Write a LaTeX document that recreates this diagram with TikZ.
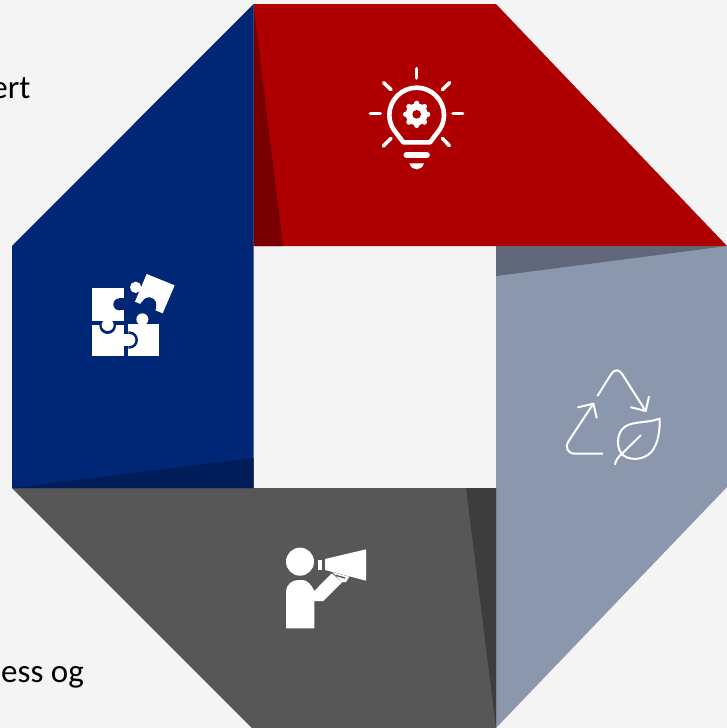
\documentclass[tikz,border=0pt]{standalone}
\usepackage{fontspec}
\setmainfont{Carlito}
\definecolor{bgc}{HTML}{F4F4F4}
\definecolor{redm}{HTML}{AE0000}
\definecolor{redd}{HTML}{780000}
\definecolor{slatem}{HTML}{8B97AD}
\definecolor{slated}{HTML}{5F6779}
\definecolor{graym}{HTML}{575757}
\definecolor{grayd}{HTML}{3D3D3D}
\definecolor{bluem}{HTML}{002776}
\definecolor{blued}{HTML}{001D5A}
\tikzset{
  bodytext/.style={font=\fontsize{33}{36}\selectfont,text=black,inner sep=0pt},
  ray/.style={draw=white,line width=3.6pt,line cap=round},
  thinline/.style={draw=white,line width=2pt,line cap=round,line join=round},
  zoomed/.style={scale=1/3}
}
\begin{document}
\begin{tikzpicture}[x=1pt,y=-1pt]
\useasboundingbox (0,0) rectangle (727,728);
\fill[bgc] (0,0) rectangle (727,728);
\node[bodytext,anchor=base east] (tA) at (30.5,98) {ert};
\node[bodytext,anchor=base east] (tB) at (84,682) {ess og};
% panels
\fill[redm] (253.5,4) -- (496,4) -- (727,246) -- (253.5,246) -- cycle;
\fill[redd] (253.5,4) -- (283,246) -- (253.5,246) -- cycle;
\fill[slatem] (496,246) -- (727,246) -- (727,487) -- (496,728) -- cycle;
\fill[slated] (496,246) -- (727,246) -- (496,276) -- cycle;
\fill[graym] (12,488) -- (496,488) -- (496,728) -- (252,728) -- cycle;
\fill[grayd] (466,488) -- (496,488) -- (496,728) -- cycle;
\fill[bluem] (253.5,4) -- (253.5,488) -- (12,488) -- (12,246) -- cycle;
\fill[blued] (12,488) -- (253.5,458) -- (253.5,488) -- cycle;
% bulb
\begin{scope}[shift={(350,50)},zoomed]
\draw[ray] (200,56) -- (200,84);
\draw[ray] (61,191) -- (91,191);
\draw[ray] (309,191) -- (338,191);
\draw[ray] (101,98) -- (123,119);
\draw[ray] (299,98) -- (277,119);
\draw[ray] (100,288) -- (123,265);
\draw[ray] (298,287) -- (277,265);
\draw[draw=white,line width=4.6pt,line join=round]
  (160,277) -- (132,240) .. controls (122,225) and (118,210) .. (118,195)
  .. controls (118,150) and (155,113) .. (200,113)
  .. controls (245,113) and (282,150) .. (282,195)
  .. controls (282,210) and (278,225) .. (268,240) -- (240,277) -- cycle;
\foreach \a in {0,45,...,315}
  \fill[white] (200,193) ++(\a:33) circle[radius=8];
\fill[white] (200,193) circle[radius=33];
\fill[redm] (200,193) circle[radius=13];
\draw[draw=white,line width=6.4pt,line cap=round] (170,315) -- (230,315);
\fill[white] (178,340) -- (222,340) .. controls (218,352) and (210,358) .. (200,358) .. controls (190,358) and (182,352) .. (178,340) -- cycle;
\end{scope}
% puzzle
\begin{scope}[shift={(70,260)},zoomed]
\fill[white] (65,83) rectangle (163,183);
\fill[bluem] (148,133) circle[radius=18];
\fill[bluem] (148,115) rectangle (163,151);
\fill[white] (65,195) rectangle (163,288);
\fill[white] (175,193) rectangle (268,288);
\fill[white] (217,178) circle[radius=18];
\begin{scope}
\clip (60,183) rectangle (170,260);
\fill[bluem] (113,197) circle[radius=25];
\end{scope}
\fill[white] (113,195) circle[radius=18];
\begin{scope}
\clip (175,200) rectangle (220,280);
\fill[bluem] (178,240) circle[radius=26];
\end{scope}
\fill[white] (178,240) circle[radius=18];
\fill[white] (160,222) rectangle (178,258);
\fill[white] (230,42) -- (314,76) -- (278,160) -- (195,125) -- cycle;
\fill[white] (197,82) circle[radius=17];
\fill[bluem] (237,134) circle[radius=22];
\fill[bluem] (216,125) -- (258,142) -- (255,160) -- (205,140) -- cycle;
\end{scope}
% recycle and leaf
\begin{scope}[shift={(550,355)},zoomed]
\draw[thinline] (143,122) -- (183,58) .. controls (192,42) and (208,42) .. (217,58) -- (287,168);
\draw[thinline] (243,157) -- (287,168) -- (297,125);
\draw[thinline] (157,296) -- (75,296) .. controls (52,296) and (44,276) .. (56,258) -- (130,146);
\draw[thinline] (84,157) -- (130,146) -- (140,188);
\draw[thinline] (329,191) .. controls (290,205) and (250,198) .. (225,215)
  .. controls (200,232) and (198,275) .. (214,295)
  .. controls (232,318) and (280,318) .. (305,290)
  .. controls (325,265) and (330,225) .. (329,191) -- cycle;
\draw[thinline] (195,328) .. controls (198,315) and (205,305) .. (215,297) -- (272,241);
\end{scope}
% megaphone speaker
\begin{scope}[shift={(270,535)},zoomed]
\fill[white] (90,80) circle[radius=42];
\fill[white] (48,280) -- (48,170) .. controls (48,150) and (65,135) .. (85,135)
  -- (98,135) .. controls (112,135) and (125,150) .. (133,168)
  -- (185,115) -- (216,142) -- (160,198) -- (133,198) -- (133,280) -- cycle;
\fill[white] (145,75) rectangle (155,105);
\fill[white] (165,72) -- (288,43) -- (288,137) -- (165,105) -- cycle;
\fill[white] (188,112) -- (238,125) -- (228,141) -- (215,141) -- cycle;
\fill[graym] (197,119) -- (226,127) -- (224,131) -- (197,123) -- cycle;
\end{scope}
\end{tikzpicture}
\end{document}
